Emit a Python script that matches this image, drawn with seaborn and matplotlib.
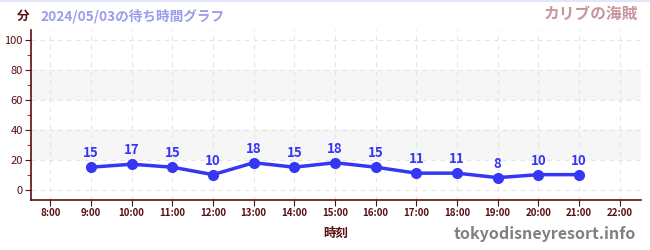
import matplotlib
matplotlib.use("Agg")
import matplotlib.pyplot as plt
import seaborn as sns
import pandas as pd
from matplotlib.ticker import MultipleLocator

# --- data ---
hours = [9, 10, 11, 12, 13, 14, 15, 16, 17, 18, 19, 20, 21]
waits = [15, 17, 15, 10, 18, 15, 18, 15, 11, 11, 8, 10, 10]
tick_hours = list(range(8, 23))
tick_labels = [f"{h}:00" for h in tick_hours]

df = pd.DataFrame({"hour": hours, "wait": waits})

sns.set_theme(style="white")
plt.rcParams['font.family'] = ['Noto Sans CJK JP', 'DejaVu Sans']

dark = "#5a0f12"
blue = "#3636f5"

fig = plt.figure(figsize=(6.5, 2.5), dpi=100)
ax = fig.add_axes([0.048, 0.2, 0.938, 0.68])

# shaded bands
for lo, hi in [(20, 40), (60, 80)]:
    ax.axhspan(lo, hi, color="#f6f6f6", zorder=0, lw=0)

sns.lineplot(data=df, x="hour", y="wait", ax=ax, color=blue, lw=2.5,
             marker="o", markersize=8, markeredgewidth=0, zorder=3)

for h, w in zip(hours, waits):
    ax.annotate(str(w), (h, w), xytext=(0, 5), textcoords="offset points",
                ha="center", va="bottom", color=blue, fontsize=9.5,
                fontweight="bold", zorder=4)

ax.set_xlim(7.53, 22.52)
ax.set_ylim(-7, 107)
ax.set_xticks(tick_hours)
ax.set_xticklabels(tick_labels, fontweight="bold")
ax.set_yticks(range(0, 101, 20))
ax.yaxis.set_minor_locator(MultipleLocator(10))

ax.grid(True, which="major", color="#e4e4e4", ls=(0, (4, 4)), lw=0.8)
ax.set_axisbelow(True)

for s in ["top", "right"]:
    ax.spines[s].set_visible(False)
for s in ["left", "bottom"]:
    ax.spines[s].set_color(dark)
    ax.spines[s].set_linewidth(1.2)

ax.tick_params(axis="x", which="major", length=4, width=0.8, color=dark,
               labelcolor=dark, labelsize=7, pad=2, bottom=True)
ax.tick_params(axis="y", which="major", length=4, width=0.8, color=dark,
               labelcolor=dark, labelsize=8, pad=2, left=True)
ax.tick_params(axis="y", which="minor", length=3, width=0.8, color="#dd2222",
               left=True)

ax.set_xlabel("時刻", color=dark, fontsize=9, fontweight="bold", labelpad=6)
ax.set_ylabel("")

fig.text(0.026, 0.935, "分", color=dark, fontsize=9, fontweight="bold",
         ha="left", va="center")
fig.text(0.063, 0.935, "2024/05/03の待ち時間グラフ", color="#9b9bef",
         fontsize=9.8, fontweight="bold", ha="left", va="center")
fig.text(0.982, 0.945, "カリブの海賊", color="#c9959b", fontsize=11.3,
         fontweight="bold", ha="right", va="center")
fig.text(0.978, 0.065, "tokyodisneyresort.info", color="#808080",
         fontsize=11.5, fontweight="bold", ha="right", va="center")

# thin top border line
fig.add_artist(plt.Line2D([0, 1], [0.997, 0.997], color="#e0e0f8", lw=1.2))

fig.savefig("out.png", dpi=100)
